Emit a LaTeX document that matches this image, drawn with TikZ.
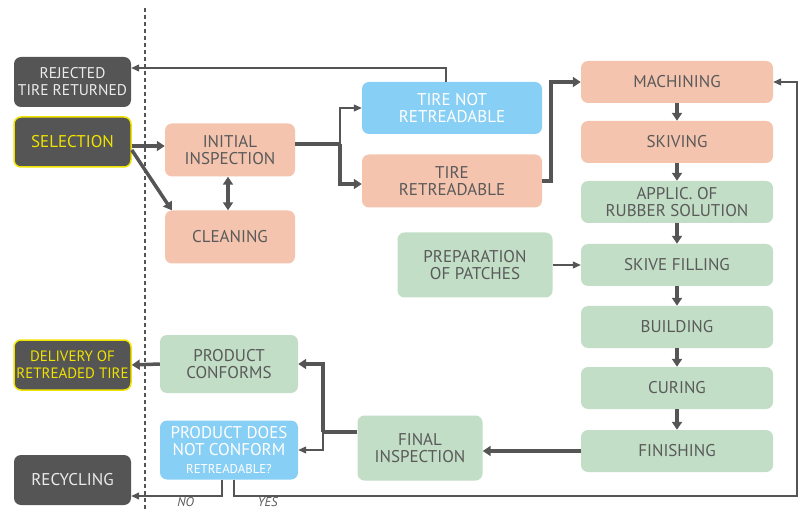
\documentclass[tikz,border=0pt]{standalone}
\usepackage{fontspec}
\setmainfont{PT Sans}
\usetikzlibrary{arrows.meta,positioning}
\definecolor{salmon}{HTML}{F4C4AE}
\definecolor{sage}{HTML}{C2DEC6}
\definecolor{sky}{HTML}{88CFF5}
\definecolor{slate}{HTML}{555555}
\definecolor{inkgrey}{HTML}{5A5A5A}
\definecolor{lemon}{HTML}{F0E300}
\newcommand{\smalltag}[1]{\scalebox{0.64}{\fontsize{20}{20}\selectfont #1}}
\tikzset{
  basebox/.style   = {rounded corners=7pt, align=center, inner sep=2pt,
                      font=\fontsize{17}{17}\selectfont},
  salmonbox/.style = {basebox, fill=salmon, text=inkgrey},
  sagebox/.style   = {basebox, fill=sage, text=inkgrey},
  skybox/.style    = {basebox, fill=sky, text=white},
  darkbox/.style   = {basebox, fill=slate, text=white!92!black,
                      minimum width=117pt, minimum height=50pt},
  keybox/.style    = {darkbox, draw=lemon, line width=1.5pt, text=lemon},
  colbox/.style    = {sagebox, minimum width=192pt, minimum height=42pt},
  flow/.style      = {-{Triangle[length=8pt,width=10pt]}, draw=slate, line width=3.5pt},
  flowboth/.style  = {{Triangle[length=8pt,width=10pt]}-{Triangle[length=8pt,width=10pt]},
                      draw=slate, line width=3.5pt},
  trunk/.style     = {draw=slate, line width=3.5pt},
  thinflow/.style  = {-{Triangle[length=8pt,width=7pt]}, draw=slate, line width=1.1pt},
  answer/.style    = {font=\itshape, text=inkgrey, inner sep=1pt},
}
\begin{document}
\begin{tikzpicture}[x=1pt,y=-1pt]
    \useasboundingbox (0,0) rectangle (805,510);
    \draw[slate, line width=1.8pt, dash pattern=on 4pt off 3pt] (145,8) -- (145,510);

    % left column
    \node[darkbox,font=\fontsize{15.5}{17}\selectfont] (rejected) at (72.5,82) {REJECTED\\TIRE RETURNED};
    \node[keybox] (selection) at (72.5,142) {SELECTION};
    \node[keybox,font=\fontsize{15}{17}\selectfont] (delivery) at (72.5,365) {DELIVERY OF\\RETREADED TIRE};
    \node[darkbox] (recycling) at (72.5,480) {RECYCLING};

    % inspection
    \node[salmonbox,minimum width=130pt,minimum height=53pt] (initial) at (230,150) {INITIAL\\INSPECTION};
    \node[salmonbox,minimum width=130pt,minimum height=53pt] (cleaning) at (230,237) {CLEANING};
    \node[skybox,minimum width=180pt,minimum height=52pt] (notretread) at (452,108) {TIRE NOT\\RETREADABLE};
    \node[salmonbox,minimum width=180pt,minimum height=53pt] (retread) at (452,181) {TIRE\\RETREADABLE};

    % process column
    \node[colbox,fill=salmon] (machining) at (677,82) {MACHINING};
    \node[colbox,fill=salmon] (skiving) at (677,142) {SKIVING};
    \node[colbox] (applic) at (677,202) {APPLIC. OF\\RUBBER SOLUTION};
    \node[colbox] (filling) at (677,265) {SKIVE FILLING};
    \node[colbox] (building) at (677,327) {BUILDING};
    \node[colbox] (curing) at (677,388) {CURING};
    \node[colbox] (finishing) at (677,451) {FINISHING};
    \node[sagebox,minimum width=155pt,minimum height=65pt] (patches) at (475,265) {PREPARATION\\OF PATCHES};

    % outcome
    \node[sagebox,minimum width=125pt,minimum height=65pt] (final) at (420,448) {FINAL\\INSPECTION};
    \node[sagebox,minimum width=138pt,minimum height=58pt] (conforms) at (229,364) {PRODUCT\\CONFORMS};
    \node[skybox,minimum width=138pt,minimum height=59pt] (nonconf) at (229,450)
        {PRODUCT DOES\\NOT CONFORM\\[1pt]\smalltag{RETREADABLE?}};

    \coordinate (split) at (340,144);
    \coordinate (split2) at (323,432);
    \coordinate (loop) at (797,496);

    \draw[thinflow] ([xshift=-6pt]notretread.north) |- ([yshift=14pt]rejected.east);
    \draw[flow] ([yshift=-4pt]selection.east) -- ([yshift=-4pt]selection.east -| initial.west);
    \draw[flow] ([yshift=-8pt]selection.east) -- ([xshift=7pt]cleaning.north west);
    \draw[flowboth] ([xshift=-2pt]initial.south) -- ([xshift=-2pt]cleaning.north);
    \draw[trunk] ([yshift=6pt]initial.east) -- (split);
    \draw[flow] (split) |- ([yshift=-3pt]retread.west);
    \draw[thinflow] (split) |- (notretread.west);
    \draw[flow] (retread.east) -- ++(9pt,0) |- (machining.west);

    \foreach \a/\b in {machining/skiving,skiving/applic,applic/filling,filling/building,building/curing,curing/finishing}
      \draw[flow] (\a) -- (\b);
    \draw[thinflow] (patches) -- (filling);

    \draw[flow] (finishing.west) -- (final.east |- finishing.west);
    \draw[trunk] ([yshift=16pt]final.west) -- (split2);
    \draw[flow] (split2) |- (conforms.east);
    \draw[thinflow] (split2) |- (nonconf.east);
    \draw[flow] (conforms.west) -- (delivery.east);

    \draw[thinflow] ([xshift=-7pt]nonconf.south) |- node[answer,pos=0.7,below=0pt] {\smalltag{NO}} ([yshift=-16pt]recycling.east);
    \draw[thinflow] ([xshift=5pt]nonconf.south) |- node[answer,pos=0.53,below=0pt] {\smalltag{YES}} (loop) |- (machining.east);
\end{tikzpicture}
\end{document}
